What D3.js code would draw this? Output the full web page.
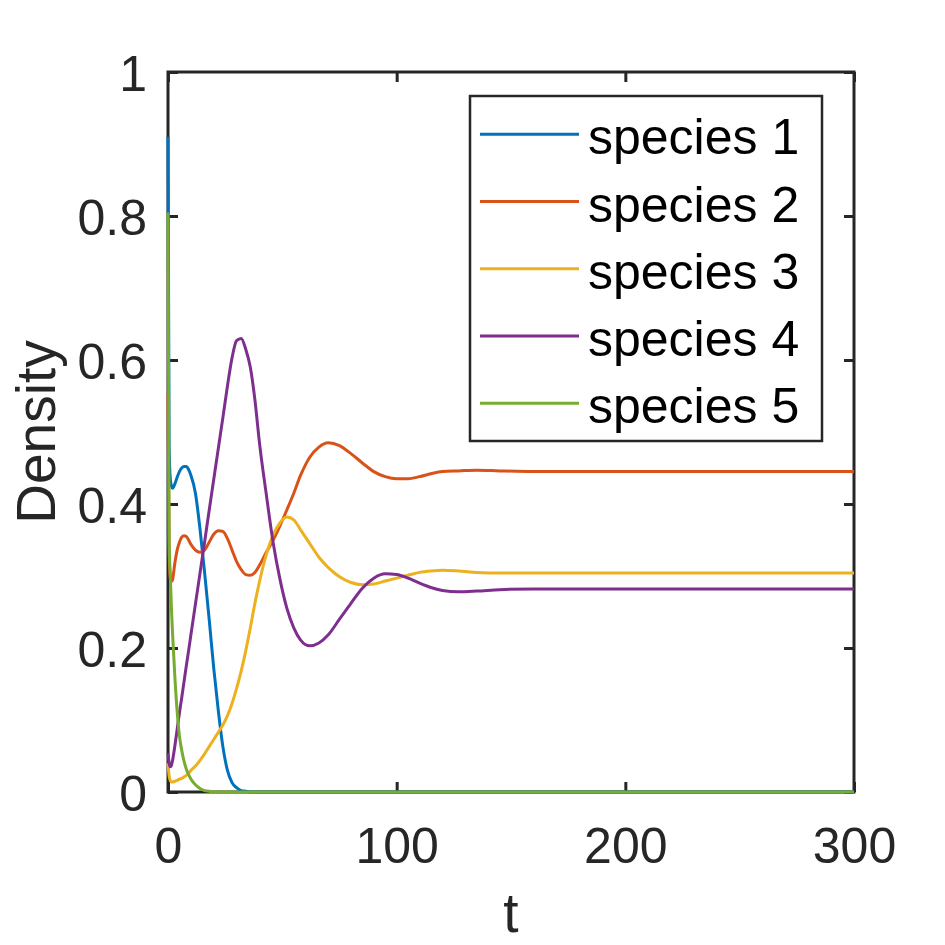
<!DOCTYPE html>
<html>
<head>
<meta charset="utf-8">
<script src="https://cdn.jsdelivr.net/npm/d3@7"></script>
<style>
  html, body { margin: 0; padding: 0; background: #fff; }
  svg text { font-family: "Liberation Sans", Arial, sans-serif; fill: #262626; }
</style>
</head>
<body>
<div id="chart"></div>
<script>
// time grid shared by all species
const tValues = [0, 0.5, 1, 1.5, 2, 3, 4, 5, 6, 7, 8, 9, 10,
  12, 14, 16, 18, 20, 22, 24, 26, 28, 30, 32, 34, 36, 38, 40,
  43, 46, 49, 52, 55, 58, 62, 66, 70,
  75, 80, 85, 90, 95, 100, 105, 110, 115, 120,
  127, 135, 145, 160, 180, 200, 250, 300];

const species1 = [0.91, 0.48, 0.435, 0.425, 0.422, 0.428, 0.437, 0.445, 0.45, 0.452, 0.452, 0.448, 0.44,
  0.415, 0.365, 0.305, 0.24, 0.172, 0.113, 0.063, 0.03, 0.013, 0.006, 0.002, 0.001, 0, 0, 0,
  0, 0, 0, 0, 0, 0, 0, 0, 0,
  0, 0, 0, 0, 0, 0, 0, 0, 0, 0,
  0, 0, 0, 0, 0, 0, 0, 0];

const species2 = [0.554, 0.33, 0.298, 0.292, 0.295, 0.318, 0.336, 0.347, 0.354, 0.356, 0.355, 0.35, 0.344,
  0.336, 0.333, 0.336, 0.347, 0.358, 0.363, 0.362, 0.352, 0.336, 0.32, 0.309, 0.302, 0.301, 0.305, 0.315,
  0.333, 0.35, 0.37, 0.392, 0.415, 0.44, 0.465, 0.479, 0.485,
  0.481, 0.47, 0.457, 0.445, 0.438, 0.435, 0.435, 0.438, 0.442, 0.445,
  0.446, 0.447, 0.446, 0.445, 0.445, 0.445, 0.445, 0.445];

const species3 = [0.04, 0.022, 0.016, 0.014, 0.014, 0.015, 0.016, 0.018, 0.019, 0.021, 0.023, 0.026, 0.03,
  0.036, 0.044, 0.053, 0.063, 0.073, 0.083, 0.093, 0.106, 0.123, 0.144, 0.168, 0.196, 0.228, 0.262, 0.292,
  0.33, 0.357, 0.374, 0.382, 0.378, 0.364, 0.345, 0.326, 0.312,
  0.299, 0.291, 0.288, 0.289, 0.293, 0.297, 0.301, 0.305, 0.307, 0.308,
  0.307, 0.305, 0.304, 0.304, 0.304, 0.304, 0.304, 0.304];

const species4 = [0.054, 0.04, 0.035, 0.037, 0.044, 0.064, 0.087, 0.11, 0.131, 0.153, 0.175, 0.196, 0.218,
  0.261, 0.304, 0.347, 0.391, 0.434, 0.477, 0.52, 0.564, 0.603, 0.627, 0.63, 0.615, 0.59, 0.545, 0.485,
  0.413, 0.346, 0.295, 0.255, 0.228, 0.211, 0.203, 0.207, 0.218,
  0.24, 0.262, 0.283, 0.297, 0.303, 0.302, 0.297, 0.29, 0.284, 0.28,
  0.278, 0.279, 0.281, 0.282, 0.282, 0.282, 0.282, 0.282];

const species5 = [0.805, 0.35, 0.3, 0.255, 0.22, 0.16, 0.112, 0.078, 0.058, 0.043, 0.032, 0.024, 0.018,
  0.01, 0.005, 0.002, 0.001, 0, 0, 0, 0, 0, 0, 0, 0, 0, 0, 0,
  0, 0, 0, 0, 0, 0, 0, 0, 0,
  0, 0, 0, 0, 0, 0, 0, 0, 0, 0,
  0, 0, 0, 0, 0, 0, 0, 0];

const seriesNames = ["species 1", "species 2", "species 3", "species 4", "species 5"];
const seriesValues = [species1, species2, species3, species4, species5];
const colors = ["#0072BD", "#D95319", "#EDB120", "#7E2F8E", "#77AC30"];
const xTicks = [0, 100, 200, 300];
const yTicks = [0, 0.2, 0.4, 0.6, 0.8, 1];

const W = 945, H = 945;
const margin = {top: 72, right: 91, bottom: 153, left: 168};
const width = W - margin.left - margin.right;   // 686
const height = H - margin.top - margin.bottom;  // 720
const axisColor = "#262626";

const svg = d3.select("#chart").append("svg")
    .attr("width", W)
    .attr("height", H);

const g = svg.append("g")
    .attr("transform", `translate(${margin.left},${margin.top})`);

const x = d3.scaleLinear().domain([0, 300]).range([0, width]);
const y = d3.scaleLinear().domain([0, 1]).range([height, 0]);

// axes with inward ticks
function styleAxis(sel) {
    sel.select(".domain").remove();
    sel.selectAll(".tick line").attr("stroke", axisColor).attr("stroke-width", 3);
    sel.selectAll(".tick text").attr("font-size", 50).attr("fill", axisColor)
        .attr("font-family", "Liberation Sans, Arial, sans-serif");
}

g.append("g")
    .attr("transform", `translate(0,${height})`)
    .call(d3.axisBottom(x).tickValues(xTicks).tickSize(-10).tickPadding(35).tickFormat(d3.format("d")))
    .call(styleAxis);

g.append("g")
    .call(d3.axisLeft(y).tickValues(yTicks).tickSize(-10).tickPadding(21).tickFormat(d => d3.format("")(d)))
    .call(styleAxis)
    .selectAll(".tick text").attr("dy", "0.36em");

g.append("g")
    .call(d3.axisTop(x).tickValues(xTicks).tickSize(-10).tickFormat(""))
    .call(styleAxis);

g.append("g")
    .attr("transform", `translate(${width},0)`)
    .call(d3.axisRight(y).tickValues(yTicks).tickSize(-10).tickFormat(""))
    .call(styleAxis);

g.append("rect")
    .attr("width", width)
    .attr("height", height)
    .attr("fill", "none")
    .attr("stroke", axisColor)
    .attr("stroke-width", 3);

// lines
const line = d3.line()
    .x((d, i) => x(tValues[i]))
    .y(d => y(d))
    .curve(d3.curveMonotoneX);

seriesValues.forEach((vals, i) => {
    g.append("path")
        .datum(vals)
        .attr("fill", "none")
        .attr("stroke", colors[i])
        .attr("stroke-width", 3)
        .attr("stroke-linejoin", "round")
        .attr("d", line);
});

// axis labels
g.append("text")
    .attr("x", width / 2)
    .attr("y", 860)
    .attr("text-anchor", "middle")
    .attr("font-size", 55)
    .text("t");

svg.append("text")
    .attr("transform", `translate(55,${margin.top + height / 2}) rotate(-90)`)
    .attr("text-anchor", "middle")
    .attr("font-size", 55)
    .text("Density");

// legend
const legend = svg.append("g");
legend.append("rect")
    .attr("x", 470)
    .attr("y", 96)
    .attr("width", 352)
    .attr("height", 345)
    .attr("fill", "#fff")
    .attr("stroke", axisColor)
    .attr("stroke-width", 2.5);

seriesNames.forEach((name, i) => {
    const ry = 134.3 + i * 67.25;
    legend.append("line")
        .attr("x1", 480).attr("x2", 579)
        .attr("y1", ry).attr("y2", ry)
        .attr("stroke", colors[i])
        .attr("stroke-width", 3);
    legend.append("text")
        .attr("x", 588)
        .attr("y", ry + 20)
        .attr("font-size", 50)
        .style("fill", "#000")
        .text(name);
});
</script>
</body>
</html>
